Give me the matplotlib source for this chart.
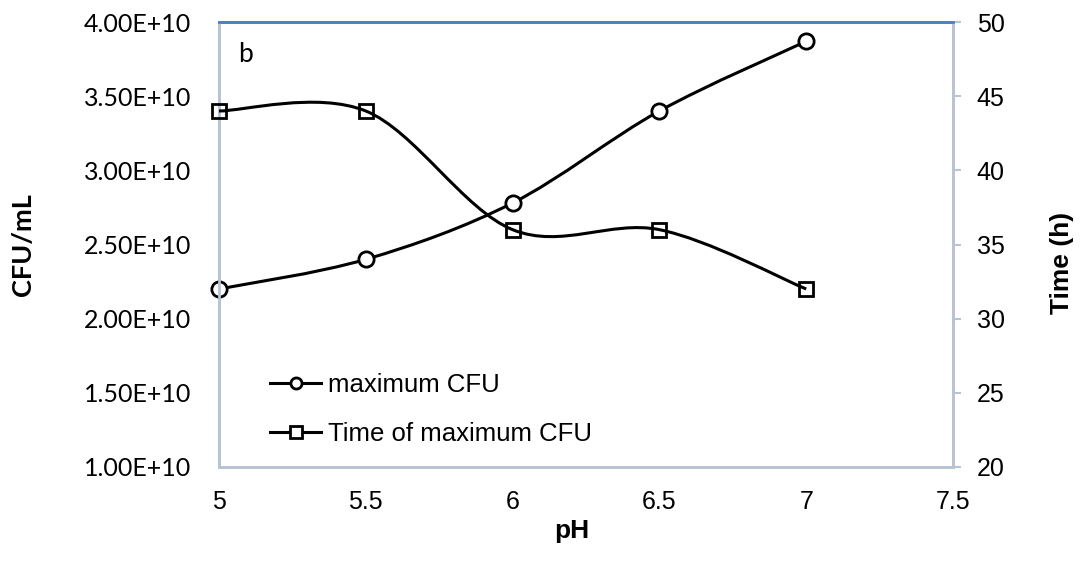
import numpy as np
import matplotlib.pyplot as plt
from matplotlib.path import Path
from matplotlib.patches import PathPatch
from matplotlib.lines import Line2D

ph = [5, 5.5, 6, 6.5, 7]
cfu = [2.2e10, 2.4e10, 2.78e10, 3.4e10, 3.87e10]
time_h = [44, 44, 36, 36, 32]

left_ticks = [1e10, 1.5e10, 2e10, 2.5e10, 3e10, 3.5e10, 4e10]
right_ticks = [20, 25, 30, 35, 40, 45, 50]
x_ticks = [5, 5.5, 6, 6.5, 7, 7.5]

ARIAL = 'Liberation Sans'
CALIBRI = 'Lato'
SPINE = '#B9C4D2'

W, H = 1081, 567


def smooth_path(x, y):
    # Excel style smoothed line: cubic bezier through the points
    pts = np.column_stack([x, y]).astype(float)
    n = len(pts)
    verts = [pts[0]]
    codes = [Path.MOVETO]
    for i in range(n - 1):
        p_prev = pts[max(i - 1, 0)]
        p0 = pts[i]
        p1 = pts[i + 1]
        p_next = pts[min(i + 2, n - 1)]
        c1 = p0 + (p1 - p_prev) / 6.0
        c2 = p1 - (p_next - p0) / 6.0
        verts += [c1, c2, p1]
        codes += [Path.CURVE4] * 3
    return Path(verts, codes)


fig = plt.figure(figsize=(W / 100, H / 100), dpi=100)
ax = fig.add_axes([219 / W, 100 / H, 734 / W, 445 / H])
ax2 = ax.twinx()

ax.add_patch(PathPatch(smooth_path(ph, cfu), facecolor='none', edgecolor='black', lw=2.2, zorder=3))
ax.plot(ph, cfu, ls='none', marker='o', ms=11, mfc='white', mec='black', mew=2, zorder=4, clip_on=False)
ax2.add_patch(PathPatch(smooth_path(ph, time_h), facecolor='none', edgecolor='black', lw=2.2, zorder=3))
ax2.plot(ph, time_h, ls='none', marker='s', ms=10, mfc='none', mec='black', mew=2, zorder=4, clip_on=False)

ax.set_xlim(5, 7.5)
ax.set_ylim(1e10, 4e10)
ax2.set_ylim(20, 50)
ax.set_xticks(x_ticks)
ax.set_xticklabels([f'{v:g}' for v in x_ticks], fontfamily=ARIAL, fontsize=18)
ax.set_yticks(left_ticks)
ax.set_yticklabels([f'{v:.2E}' for v in left_ticks], fontfamily=CALIBRI, fontsize=18)
ax2.set_yticks(right_ticks)
ax2.set_yticklabels([str(v) for v in right_ticks], fontfamily=ARIAL, fontsize=18)

ax.tick_params(axis='x', length=0, pad=16.5)
ax.tick_params(axis='y', length=0, pad=20)
ax2.tick_params(axis='y', length=6, width=1.5, color=SPINE, pad=11)

for a in (ax, ax2):
    a.spines['top'].set_color('#4F81BD')
    a.spines['top'].set_linewidth(2)
    for s in ('left', 'right', 'bottom'):
        a.spines[s].set_color(SPINE)
        a.spines[s].set_linewidth(2)

fig.text(572 / W, 1 - 531 / H, 'pH', fontfamily=ARIAL, fontweight='bold', fontsize=19,
         ha='center', va='center')
fig.text(23 / W, 1 - 245 / H, 'CFU/mL', fontfamily=CALIBRI, fontweight='bold', fontsize=19.5,
         rotation=90, ha='center', va='center')
fig.text(1062 / W, 1 - 263 / H, 'Time (h)', fontfamily=ARIAL, fontweight='bold', fontsize=19,
         rotation=90, ha='center', va='center')

ax.text(238 / W, 1 - 54 / H, 'b', transform=fig.transFigure, fontfamily=CALIBRI, fontsize=19,
        ha='left', va='center')

handles = [
    Line2D([], [], color='black', lw=2.2, marker='o', ms=8, mfc='white', mec='black', mew=2),
    Line2D([], [], color='black', lw=2.2, marker='s', ms=8, mfc='white', mec='black', mew=2),
]
ax.legend(handles, ['maximum CFU', 'Time of maximum CFU'], loc='upper left',
          bbox_to_anchor=(0.0695, 0.212), frameon=False, borderpad=0, borderaxespad=0,
          handlelength=2.0, handletextpad=0.27, labelspacing=1.0,
          prop={'family': ARIAL, 'size': 18.5})

fig.savefig('out.png', dpi=100)
